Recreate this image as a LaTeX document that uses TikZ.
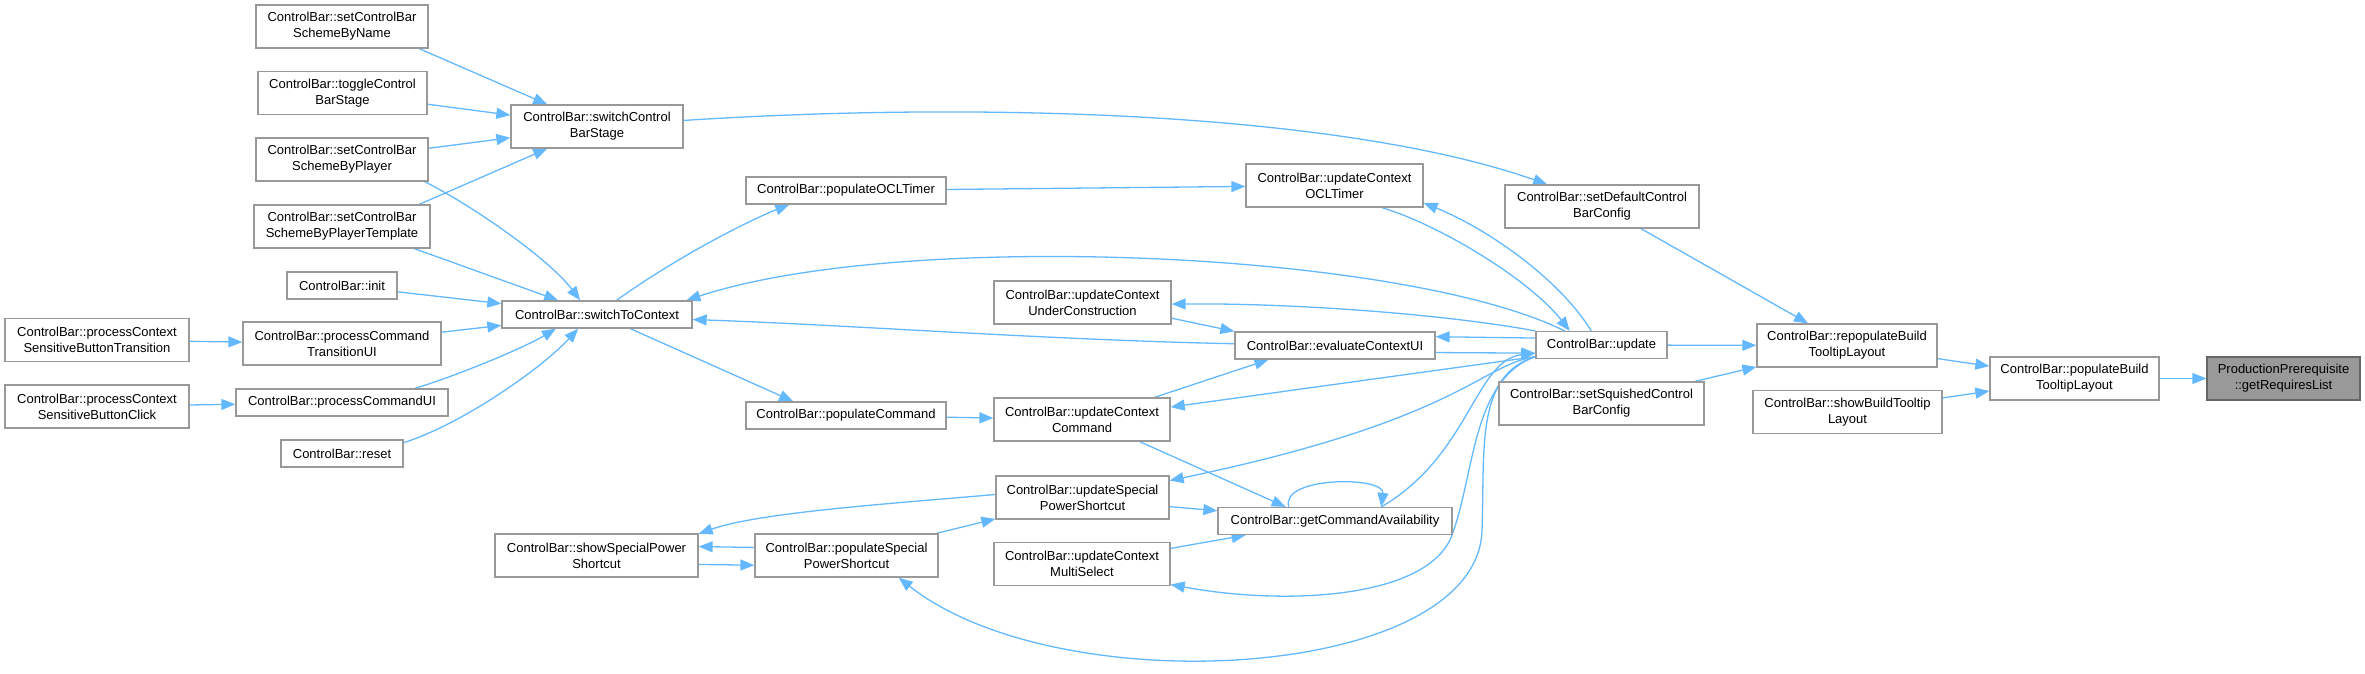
\documentclass[tikz,border=0pt]{standalone}
\usepackage{fontspec}
\setmainfont{Liberation Sans}
\usepackage{tikz}
\usetikzlibrary{arrows.meta,positioning,backgrounds}
\definecolor{edgeblue}{HTML}{63B8FF}
\definecolor{boxgray}{HTML}{999999}
\definecolor{rootfill}{HTML}{999999}
\definecolor{rootdraw}{HTML}{666666}

\begin{document}
\begin{tikzpicture}[x=1pt, y=-1pt,
  box/.style={draw=boxgray, fill=white, line width=1.3pt, align=center,
    inner sep=0pt, minimum height=43pt, font=\fontsize{13}{16}\selectfont},
  one/.style={minimum height=27pt},
  root/.style={fill=rootfill, draw=rootdraw},
  arrow/.style={-{Triangle[length=14pt, width=11pt]}, line width=1.3pt,
    draw=edgeblue}]
\useasboundingbox (0,0) rectangle (2365,673);
% callers of switchControlBarStage / switchToContext
\node[box, minimum width=172pt] (sbn) at (342,26.5) {ControlBar::setControlBar\\SchemeByName};
\node[box, minimum width=169pt] (toggle) at (342.5,93) {ControlBar::toggleControl\\BarStage};
\node[box, minimum width=172pt] (sbp) at (342,159.5) {ControlBar::setControlBar\\SchemeByPlayer};
\node[box, minimum width=176pt] (sbpt) at (342,226.5) {ControlBar::setControlBar\\SchemeByPlayerTemplate};
\node[box, one, minimum width=110pt] (init) at (342,285.5) {ControlBar::init};
\node[box, minimum width=198pt] (pctui) at (342,343.5) {ControlBar::processCommand\\TransitionUI};
\node[box, one, minimum width=212pt] (pcui) at (342,402.5) {ControlBar::processCommandUI};
\node[box, one, minimum width=122pt] (reset) at (342,453.5) {ControlBar::reset};
\node[box, minimum width=184pt] (pcsbt) at (97,340) {ControlBar::processContext\\SensitiveButtonTransition};
\node[box, minimum width=184pt] (pcsbc) at (97,406.5) {ControlBar::processContext\\SensitiveButtonClick};
\node[box, minimum width=172pt] (scbs) at (597,126.5) {ControlBar::switchControl\\BarStage};
\node[box, one, minimum width=190pt] (stc) at (597,314.5) {ControlBar::switchToContext};
\node[box, minimum width=203pt] (sspsc) at (596.5,555.5) {ControlBar::showSpecialPower\\Shortcut};
% populate / updateContext layer
\node[box, one, minimum width=200pt] (pocl) at (846,190.5) {ControlBar::populateOCLTimer};
\node[box, one, minimum width=200pt] (pcmd) at (846,415.5) {ControlBar::populateCommand};
\node[box, minimum width=183pt] (pspsc) at (846.5,555.5) {ControlBar::populateSpecial\\PowerShortcut};
\node[box, minimum width=177pt] (ucuc) at (1082.5,302.5) {ControlBar::updateContext\\UnderConstruction};
\node[box, minimum width=176pt] (ucc) at (1082,419.5) {ControlBar::updateContext\\Command};
\node[box, minimum width=173pt] (usps) at (1082.5,497.5) {ControlBar::updateSpecial\\PowerShortcut};
\node[box, minimum width=176pt] (ucms) at (1082,564) {ControlBar::updateContext\\MultiSelect};
\node[box, minimum width=177pt] (ucocl) at (1334.5,185.5) {ControlBar::updateContext\\OCLTimer};
\node[box, one, minimum width=200pt] (ecui) at (1335,345.5) {ControlBar::evaluateContextUI};
\node[box, one, minimum width=234pt] (gca) at (1335,521) {ControlBar::getCommandAvailability};
% tooltip chain
\node[box, minimum width=194pt] (sdcbc) at (1602,206.5) {ControlBar::setDefaultControl\\BarConfig};
\node[box, one, minimum width=131pt] (upd) at (1601.5,345) {ControlBar::update};
\node[box, minimum width=205pt] (sscbc) at (1601.5,403.5) {ControlBar::setSquishedControl\\BarConfig};
\node[box, minimum width=180pt] (rbtl) at (1847,345.5) {ControlBar::repopulateBuild\\TooltipLayout};
\node[box, minimum width=189pt] (sbtl) at (1847.5,412) {ControlBar::showBuildTooltip\\Layout};
\node[box, minimum width=169pt] (pbtl) at (2074.5,378.5) {ControlBar::populateBuild\\TooltipLayout};
\node[box, root, minimum width=153pt] (grl) at (2283.5,378.5) {ProductionPrerequisite\\::getRequiresList};
% edges
\begin{scope}[on background layer]
\draw[arrow] (pbtl) -- (grl);
\draw[arrow] (rbtl) -- (pbtl);
\draw[arrow] (sbtl) -- (pbtl);
\draw[arrow] (sdcbc) -- (rbtl);
\draw[arrow] (upd) -- (rbtl);
\draw[arrow] (sscbc) -- (rbtl);
\draw[arrow] (scbs.4) .. controls (1000,100) and (1350,115) .. (sdcbc.158);
\draw[arrow] (sbn.-16) -- (scbs.156);
\draw[arrow] (toggle) -- (scbs);
\draw[arrow] (sbp) -- (scbs);
\draw[arrow] (sbpt.16) -- (scbs.204);
\draw[arrow] (sbp.-15) .. controls (475,207) and (550,260) .. (stc.140);
\draw[arrow] (sbpt.-17) -- (stc.160);
\draw[arrow] (init) -- (stc);
\draw[arrow] (pctui) -- (stc);
\draw[arrow] (pcui.11) .. controls (450,378) and (520,350) .. (stc.199);
\draw[arrow] (reset.10) .. controls (460,425) and (540,370) .. (stc.217);
\draw[arrow] (pcsbt) -- (pctui);
\draw[arrow] (pcsbc) -- (pcui);
\draw[arrow] (stc.36) .. controls (680,255) and (750,220) .. (pocl.194);
\draw[arrow] (stc.-23) -- (pcmd.165);
\draw[arrow] (pocl) -- (ucocl);
\draw[arrow] (pcmd) -- (ucc);
\draw[arrow] (pspsc) -- (usps);
\draw[arrow] (usps.178) .. controls (900,503) and (760,512) .. (sspsc.12);
\draw[arrow] (pspsc.175) -- (sspsc.5);
\draw[arrow] (sspsc.-5) -- (pspsc.186);
\draw[arrow] (ucocl.-25) .. controls (1440,225) and (1530,280) .. (upd.156);
\draw[arrow] (upd.126) .. controls (1560,280) and (1490,230) .. (ucocl.-11);
\draw[arrow] (upd.159) .. controls (1400,250) and (900,230) .. (stc.9);
\draw[arrow] (upd.168) .. controls (1450,315) and (1300,303) .. (ucuc.-1);
\draw[arrow] (upd.174) -- (ecui.5);
\draw[arrow] (ecui.-4) -- (upd.187);
\draw[arrow] (ucuc.-10) -- (ecui.172);
\draw[arrow] (ecui.179) .. controls (1050,340) and (850,325) .. (stc.-3);
\draw[arrow] (upd.190) -- (ucc.8);
\draw[arrow] (ucc.17) -- (ecui.192);
\draw[arrow] (ucc.-21) -- (gca.164);
\draw[arrow] (upd.190) .. controls (1480,365) and (1460,420) .. (usps.11);
\draw[arrow] (usps.-6) -- (gca.175);
\draw[arrow] (gca.163) .. controls (1280,476) and (1385,476) .. (gca.17);
\draw[arrow] (gca.17) .. controls (1470,455) and (1475,360) .. (upd.187);
\draw[arrow] (ucms.10) -- (gca.189);
\draw[arrow] (upd.190) .. controls (1470,380) and (1475,480) .. (1450,540)
  .. controls (1420,600) and (1280,605) .. (ucms.-13);
\draw[arrow] (upd.190) .. controls (1475,375) and (1485,450) .. (1482,530)
  .. controls (1478,680) and (1060,705) .. (pspsc.-23);
\end{scope}
\end{tikzpicture}
\end{document}
